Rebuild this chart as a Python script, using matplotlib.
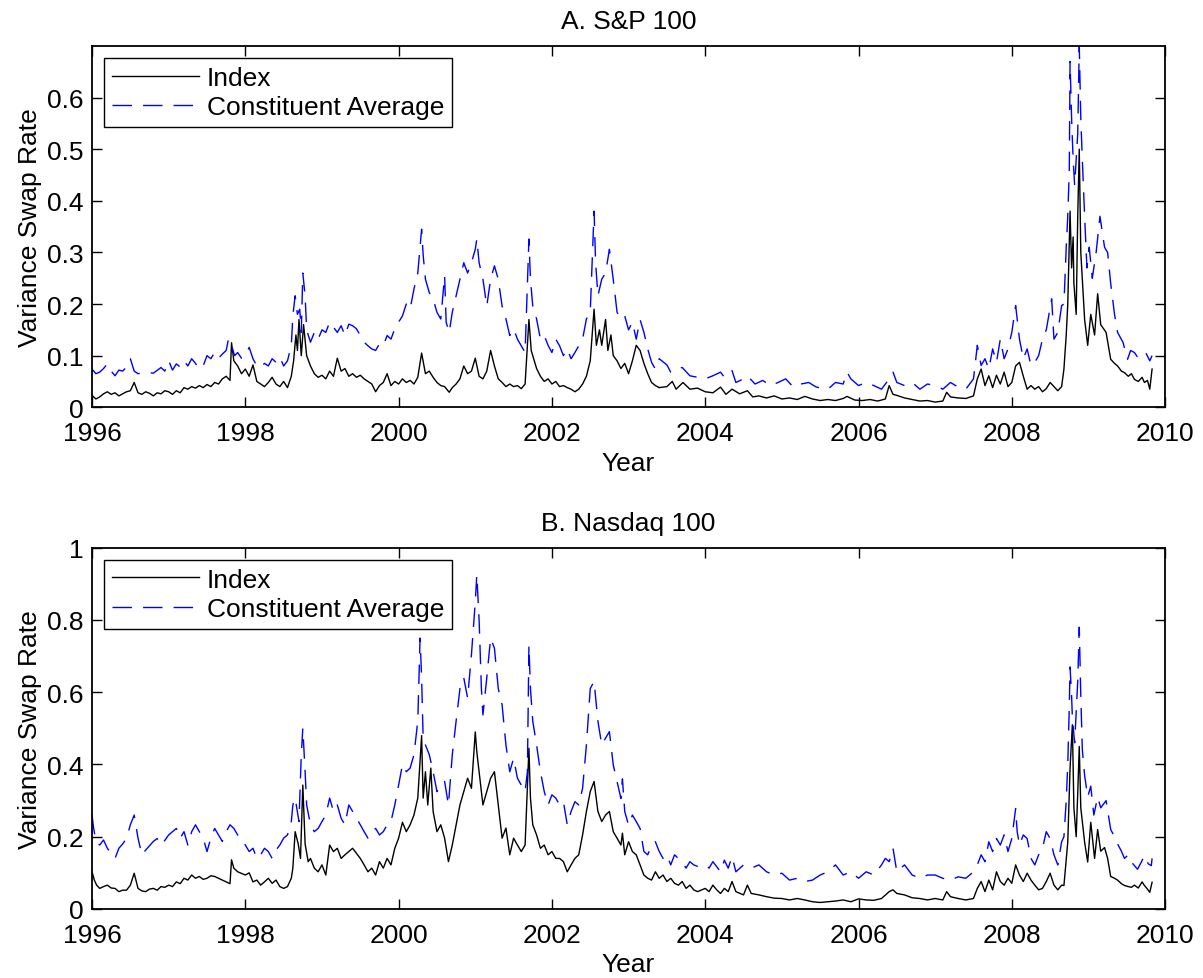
import numpy as np
import matplotlib
matplotlib.use("Agg")
import matplotlib.pyplot as plt

plt.rcParams['font.family'] = ['Liberation Sans', 'DejaVu Sans']

# (year, variance swap rate)
sp_index = [
    (1996.00, 0.023), (1996.05, 0.016), (1996.10, 0.020), (1996.15, 0.026), (1996.20, 0.030),
    (1996.25, 0.025), (1996.30, 0.028), (1996.35, 0.022), (1996.40, 0.026), (1996.45, 0.030),
    (1996.50, 0.032), (1996.55, 0.048), (1996.60, 0.028), (1996.65, 0.025), (1996.70, 0.030),
    (1996.75, 0.027), (1996.80, 0.022), (1996.85, 0.028), (1996.90, 0.026), (1996.95, 0.032),
    (1997.00, 0.030), (1997.05, 0.025), (1997.10, 0.032), (1997.15, 0.028), (1997.20, 0.038),
    (1997.25, 0.035), (1997.30, 0.040), (1997.35, 0.037), (1997.40, 0.042), (1997.45, 0.038),
    (1997.50, 0.044), (1997.55, 0.040), (1997.60, 0.048), (1997.65, 0.045), (1997.70, 0.055),
    (1997.75, 0.060), (1997.80, 0.052), (1997.82, 0.125), (1997.85, 0.090), (1997.90, 0.080),
    (1997.95, 0.065), (1998.00, 0.074), (1998.05, 0.060), (1998.10, 0.082), (1998.15, 0.050),
    (1998.20, 0.045), (1998.25, 0.040), (1998.30, 0.048), (1998.35, 0.058), (1998.40, 0.045),
    (1998.45, 0.040), (1998.50, 0.050), (1998.55, 0.038), (1998.60, 0.060), (1998.63, 0.090),
    (1998.66, 0.140), (1998.68, 0.110), (1998.70, 0.170), (1998.73, 0.100), (1998.76, 0.160),
    (1998.80, 0.100), (1998.85, 0.080), (1998.90, 0.065), (1998.95, 0.058), (1999.00, 0.062),
    (1999.05, 0.055), (1999.10, 0.070), (1999.15, 0.060), (1999.20, 0.095), (1999.25, 0.070),
    (1999.30, 0.075), (1999.35, 0.060), (1999.40, 0.065), (1999.45, 0.058), (1999.50, 0.062),
    (1999.55, 0.055), (1999.60, 0.050), (1999.65, 0.045), (1999.70, 0.030), (1999.75, 0.042),
    (1999.80, 0.048), (1999.85, 0.065), (1999.90, 0.042), (1999.95, 0.050), (2000.00, 0.045),
    (2000.05, 0.055), (2000.10, 0.048), (2000.15, 0.052), (2000.20, 0.045), (2000.25, 0.058),
    (2000.30, 0.105), (2000.35, 0.065), (2000.40, 0.070), (2000.45, 0.058), (2000.50, 0.048),
    (2000.55, 0.042), (2000.60, 0.040), (2000.66, 0.029), (2000.70, 0.038), (2000.75, 0.045),
    (2000.80, 0.055), (2000.85, 0.080), (2000.90, 0.065), (2000.95, 0.070), (2001.00, 0.095),
    (2001.05, 0.060), (2001.10, 0.055), (2001.15, 0.070), (2001.20, 0.110), (2001.25, 0.080),
    (2001.30, 0.055), (2001.35, 0.048), (2001.40, 0.040), (2001.45, 0.045), (2001.50, 0.040),
    (2001.55, 0.042), (2001.60, 0.036), (2001.65, 0.045), (2001.70, 0.170), (2001.73, 0.110),
    (2001.77, 0.090), (2001.80, 0.075), (2001.85, 0.060), (2001.90, 0.050), (2001.95, 0.055),
    (2002.00, 0.045), (2002.05, 0.050), (2002.10, 0.040), (2002.15, 0.042), (2002.20, 0.038),
    (2002.25, 0.035), (2002.30, 0.030), (2002.35, 0.035), (2002.40, 0.045), (2002.45, 0.060),
    (2002.50, 0.090), (2002.55, 0.190), (2002.58, 0.120), (2002.62, 0.150), (2002.65, 0.120),
    (2002.70, 0.170), (2002.73, 0.110), (2002.77, 0.140), (2002.80, 0.100), (2002.85, 0.090),
    (2002.90, 0.075), (2002.95, 0.085), (2003.00, 0.065), (2003.05, 0.090), (2003.10, 0.120),
    (2003.15, 0.110), (2003.20, 0.085), (2003.25, 0.065), (2003.30, 0.048), (2003.35, 0.042),
    (2003.40, 0.038), (2003.50, 0.040), (2003.57, 0.050), (2003.62, 0.035), (2003.71, 0.048),
    (2003.80, 0.035), (2003.90, 0.037), (2004.00, 0.030), (2004.10, 0.028), (2004.20, 0.039),
    (2004.27, 0.025), (2004.35, 0.035), (2004.45, 0.026), (2004.55, 0.032), (2004.62, 0.020),
    (2004.70, 0.022), (2004.80, 0.018), (2004.90, 0.022), (2005.00, 0.016), (2005.10, 0.018),
    (2005.20, 0.015), (2005.30, 0.021), (2005.40, 0.016), (2005.50, 0.013), (2005.60, 0.015),
    (2005.70, 0.013), (2005.80, 0.017), (2005.85, 0.021), (2005.95, 0.014), (2006.05, 0.013),
    (2006.15, 0.015), (2006.25, 0.012), (2006.35, 0.016), (2006.40, 0.042), (2006.45, 0.025),
    (2006.50, 0.023), (2006.60, 0.018), (2006.70, 0.015), (2006.80, 0.012), (2006.90, 0.013),
    (2007.00, 0.010), (2007.10, 0.012), (2007.15, 0.029), (2007.20, 0.020), (2007.30, 0.018),
    (2007.40, 0.017), (2007.50, 0.022), (2007.55, 0.055), (2007.60, 0.074), (2007.65, 0.042),
    (2007.70, 0.061), (2007.75, 0.038), (2007.80, 0.062), (2007.85, 0.045), (2007.90, 0.068),
    (2007.95, 0.040), (2008.00, 0.048), (2008.05, 0.080), (2008.10, 0.087), (2008.15, 0.060),
    (2008.20, 0.035), (2008.25, 0.042), (2008.30, 0.035), (2008.35, 0.040), (2008.40, 0.030),
    (2008.45, 0.036), (2008.50, 0.048), (2008.55, 0.040), (2008.60, 0.032), (2008.65, 0.040),
    (2008.68, 0.074), (2008.71, 0.140), (2008.73, 0.200), (2008.76, 0.380), (2008.78, 0.270),
    (2008.80, 0.330), (2008.81, 0.240), (2008.84, 0.180), (2008.86, 0.370), (2008.88, 0.500),
    (2008.90, 0.300), (2008.95, 0.170), (2008.99, 0.120), (2009.03, 0.180), (2009.08, 0.140),
    (2009.12, 0.220), (2009.16, 0.160), (2009.23, 0.145), (2009.29, 0.093), (2009.34, 0.085),
    (2009.38, 0.080), (2009.43, 0.070), (2009.47, 0.067), (2009.52, 0.060), (2009.56, 0.065),
    (2009.60, 0.054), (2009.65, 0.050), (2009.70, 0.058), (2009.73, 0.048), (2009.77, 0.052),
    (2009.80, 0.035), (2009.83, 0.074),
]

sp_const = [
    (1996.00, 0.074), (1996.05, 0.065), (1996.10, 0.068), (1996.15, 0.075), (1996.20, 0.084),
    (1996.25, 0.070), (1996.30, 0.061), (1996.35, 0.072), (1996.40, 0.070), (1996.45, 0.078),
    (1996.50, 0.094), (1996.55, 0.070), (1996.60, 0.065), (1996.70, 0.068), (1996.80, 0.066),
    (1996.90, 0.077), (1996.95, 0.070), (1997.00, 0.090), (1997.05, 0.072), (1997.10, 0.084),
    (1997.15, 0.078), (1997.20, 0.090), (1997.25, 0.080), (1997.30, 0.094), (1997.35, 0.085),
    (1997.40, 0.074), (1997.45, 0.080), (1997.50, 0.100), (1997.55, 0.094), (1997.60, 0.106),
    (1997.65, 0.095), (1997.70, 0.103), (1997.75, 0.110), (1997.78, 0.132), (1997.82, 0.120),
    (1997.86, 0.100), (1997.90, 0.106), (1997.95, 0.095), (1998.00, 0.100), (1998.05, 0.116),
    (1998.10, 0.094), (1998.15, 0.080), (1998.20, 0.077), (1998.25, 0.085), (1998.30, 0.080),
    (1998.35, 0.094), (1998.40, 0.087), (1998.45, 0.097), (1998.50, 0.080), (1998.55, 0.090),
    (1998.60, 0.120), (1998.62, 0.177), (1998.65, 0.216), (1998.68, 0.180), (1998.71, 0.190),
    (1998.73, 0.145), (1998.75, 0.260), (1998.78, 0.216), (1998.80, 0.150), (1998.85, 0.126),
    (1998.90, 0.145), (1998.95, 0.132), (1999.00, 0.150), (1999.05, 0.145), (1999.10, 0.165),
    (1999.15, 0.155), (1999.20, 0.145), (1999.25, 0.158), (1999.30, 0.139), (1999.35, 0.161),
    (1999.40, 0.158), (1999.45, 0.152), (1999.50, 0.139), (1999.55, 0.126), (1999.60, 0.119),
    (1999.65, 0.113), (1999.70, 0.110), (1999.75, 0.123), (1999.80, 0.119), (1999.85, 0.139),
    (1999.90, 0.132), (1999.95, 0.152), (2000.00, 0.165), (2000.05, 0.177), (2000.10, 0.200),
    (2000.15, 0.190), (2000.20, 0.229), (2000.25, 0.260), (2000.30, 0.345), (2000.32, 0.295),
    (2000.35, 0.248), (2000.40, 0.222), (2000.45, 0.210), (2000.50, 0.184), (2000.55, 0.171),
    (2000.60, 0.255), (2000.62, 0.165), (2000.66, 0.145), (2000.70, 0.184), (2000.75, 0.216),
    (2000.80, 0.248), (2000.85, 0.280), (2000.90, 0.260), (2000.95, 0.280), (2001.00, 0.306),
    (2001.02, 0.326), (2001.05, 0.280), (2001.10, 0.248), (2001.15, 0.196), (2001.20, 0.248),
    (2001.25, 0.274), (2001.30, 0.248), (2001.35, 0.196), (2001.40, 0.171), (2001.45, 0.139),
    (2001.50, 0.152), (2001.55, 0.132), (2001.60, 0.119), (2001.65, 0.106), (2001.70, 0.326),
    (2001.72, 0.248), (2001.75, 0.196), (2001.80, 0.171), (2001.85, 0.132), (2001.90, 0.139),
    (2001.95, 0.120), (2002.00, 0.106), (2002.05, 0.132), (2002.10, 0.119), (2002.15, 0.100),
    (2002.20, 0.113), (2002.25, 0.094), (2002.30, 0.106), (2002.35, 0.119), (2002.40, 0.132),
    (2002.45, 0.171), (2002.50, 0.184), (2002.55, 0.380), (2002.57, 0.280), (2002.60, 0.216),
    (2002.65, 0.248), (2002.70, 0.260), (2002.75, 0.306), (2002.80, 0.248), (2002.85, 0.184),
    (2002.90, 0.171), (2002.95, 0.177), (2003.00, 0.150), (2003.05, 0.165), (2003.10, 0.132),
    (2003.15, 0.170), (2003.20, 0.145), (2003.25, 0.113), (2003.30, 0.087), (2003.35, 0.074),
    (2003.40, 0.094), (2003.50, 0.082), (2003.55, 0.068), (2003.60, 0.074), (2003.70, 0.077),
    (2003.80, 0.061), (2003.90, 0.058), (2004.00, 0.055), (2004.10, 0.061), (2004.20, 0.068),
    (2004.25, 0.058), (2004.35, 0.071), (2004.40, 0.048), (2004.50, 0.055), (2004.55, 0.061),
    (2004.65, 0.045), (2004.75, 0.052), (2004.85, 0.042), (2004.95, 0.048), (2005.05, 0.055),
    (2005.15, 0.039), (2005.25, 0.045), (2005.35, 0.048), (2005.45, 0.039), (2005.60, 0.035),
    (2005.70, 0.048), (2005.80, 0.045), (2005.85, 0.068), (2005.90, 0.055), (2006.00, 0.042),
    (2006.10, 0.048), (2006.20, 0.042), (2006.30, 0.035), (2006.40, 0.055), (2006.45, 0.068),
    (2006.50, 0.048), (2006.60, 0.042), (2006.70, 0.048), (2006.80, 0.035), (2006.90, 0.045),
    (2007.00, 0.042), (2007.10, 0.035), (2007.20, 0.048), (2007.30, 0.039), (2007.40, 0.035),
    (2007.50, 0.055), (2007.55, 0.120), (2007.60, 0.081), (2007.65, 0.094), (2007.70, 0.074),
    (2007.75, 0.113), (2007.80, 0.087), (2007.85, 0.132), (2007.90, 0.094), (2007.95, 0.113),
    (2008.00, 0.145), (2008.05, 0.197), (2008.10, 0.132), (2008.15, 0.094), (2008.20, 0.113),
    (2008.25, 0.081), (2008.30, 0.087), (2008.35, 0.100), (2008.40, 0.132), (2008.45, 0.150),
    (2008.52, 0.210), (2008.55, 0.132), (2008.60, 0.145), (2008.65, 0.197), (2008.68, 0.200),
    (2008.71, 0.310), (2008.73, 0.370), (2008.75, 0.460), (2008.76, 0.670), (2008.78, 0.560),
    (2008.80, 0.480), (2008.82, 0.430), (2008.86, 0.530), (2008.88, 0.700), (2008.90, 0.560),
    (2008.92, 0.480), (2008.95, 0.370), (2008.98, 0.270), (2009.01, 0.310), (2009.05, 0.250),
    (2009.10, 0.300), (2009.15, 0.370), (2009.21, 0.310), (2009.25, 0.300), (2009.29, 0.240),
    (2009.34, 0.180), (2009.38, 0.145), (2009.45, 0.126), (2009.51, 0.093), (2009.55, 0.110),
    (2009.60, 0.106), (2009.65, 0.095), (2009.69, 0.100), (2009.75, 0.105), (2009.80, 0.090),
    (2009.83, 0.100),
]

ndx_index = [
    (1996.00, 0.103), (1996.03, 0.080), (1996.06, 0.066), (1996.10, 0.057), (1996.15, 0.062),
    (1996.20, 0.066), (1996.25, 0.058), (1996.30, 0.057), (1996.35, 0.048), (1996.40, 0.052),
    (1996.45, 0.052), (1996.50, 0.066), (1996.55, 0.099), (1996.60, 0.057), (1996.65, 0.050),
    (1996.70, 0.048), (1996.75, 0.055), (1996.80, 0.057), (1996.85, 0.052), (1996.90, 0.062),
    (1996.95, 0.060), (1997.00, 0.066), (1997.05, 0.062), (1997.10, 0.075), (1997.15, 0.070),
    (1997.20, 0.085), (1997.25, 0.080), (1997.30, 0.094), (1997.35, 0.085), (1997.40, 0.090),
    (1997.45, 0.082), (1997.50, 0.085), (1997.55, 0.092), (1997.60, 0.090), (1997.65, 0.085),
    (1997.70, 0.080), (1997.75, 0.075), (1997.80, 0.070), (1997.82, 0.136), (1997.85, 0.113),
    (1997.90, 0.103), (1998.00, 0.094), (1998.05, 0.100), (1998.10, 0.075), (1998.15, 0.080),
    (1998.20, 0.066), (1998.25, 0.075), (1998.30, 0.085), (1998.35, 0.071), (1998.40, 0.080),
    (1998.45, 0.062), (1998.50, 0.057), (1998.55, 0.062), (1998.60, 0.085), (1998.62, 0.113),
    (1998.65, 0.214), (1998.69, 0.180), (1998.72, 0.140), (1998.75, 0.343), (1998.78, 0.180),
    (1998.82, 0.131), (1998.85, 0.140), (1998.90, 0.113), (1998.95, 0.103), (1999.00, 0.122),
    (1999.05, 0.094), (1999.10, 0.177), (1999.15, 0.159), (1999.20, 0.168), (1999.25, 0.140),
    (1999.30, 0.150), (1999.35, 0.159), (1999.40, 0.168), (1999.45, 0.154), (1999.50, 0.140),
    (1999.55, 0.122), (1999.60, 0.103), (1999.65, 0.113), (1999.70, 0.094), (1999.75, 0.131),
    (1999.80, 0.113), (1999.85, 0.140), (1999.90, 0.122), (1999.95, 0.168), (2000.00, 0.196),
    (2000.05, 0.240), (2000.10, 0.214), (2000.15, 0.233), (2000.20, 0.260), (2000.25, 0.307),
    (2000.30, 0.480), (2000.32, 0.307), (2000.35, 0.380), (2000.38, 0.288), (2000.42, 0.390),
    (2000.45, 0.270), (2000.50, 0.214), (2000.55, 0.233), (2000.60, 0.196), (2000.65, 0.131),
    (2000.70, 0.177), (2000.75, 0.233), (2000.80, 0.288), (2000.85, 0.325), (2000.90, 0.362),
    (2000.95, 0.334), (2001.00, 0.490), (2001.02, 0.435), (2001.05, 0.380), (2001.10, 0.288),
    (2001.15, 0.325), (2001.20, 0.362), (2001.25, 0.380), (2001.30, 0.288), (2001.35, 0.196),
    (2001.40, 0.224), (2001.45, 0.150), (2001.50, 0.196), (2001.55, 0.177), (2001.60, 0.159),
    (2001.65, 0.177), (2001.70, 0.445), (2001.72, 0.307), (2001.75, 0.233), (2001.80, 0.205),
    (2001.85, 0.168), (2001.90, 0.177), (2001.95, 0.150), (2002.00, 0.159), (2002.05, 0.140),
    (2002.10, 0.140), (2002.15, 0.131), (2002.20, 0.103), (2002.25, 0.122), (2002.30, 0.140),
    (2002.35, 0.150), (2002.40, 0.205), (2002.45, 0.270), (2002.50, 0.325), (2002.55, 0.353),
    (2002.60, 0.270), (2002.65, 0.242), (2002.70, 0.260), (2002.75, 0.270), (2002.80, 0.214),
    (2002.85, 0.196), (2002.90, 0.177), (2002.92, 0.210), (2002.95, 0.150), (2003.00, 0.186),
    (2003.05, 0.159), (2003.10, 0.150), (2003.15, 0.122), (2003.20, 0.094), (2003.25, 0.085),
    (2003.30, 0.080), (2003.35, 0.103), (2003.40, 0.085), (2003.45, 0.094), (2003.50, 0.076),
    (2003.55, 0.085), (2003.60, 0.071), (2003.65, 0.066), (2003.70, 0.076), (2003.75, 0.057),
    (2003.80, 0.066), (2003.85, 0.053), (2003.90, 0.048), (2004.00, 0.057), (2004.05, 0.048),
    (2004.10, 0.066), (2004.15, 0.053), (2004.20, 0.043), (2004.25, 0.057), (2004.30, 0.048),
    (2004.35, 0.076), (2004.40, 0.048), (2004.50, 0.039), (2004.55, 0.066), (2004.60, 0.043),
    (2004.70, 0.039), (2004.80, 0.034), (2004.90, 0.030), (2005.00, 0.029), (2005.10, 0.025),
    (2005.20, 0.029), (2005.30, 0.025), (2005.40, 0.020), (2005.50, 0.018), (2005.60, 0.020),
    (2005.70, 0.022), (2005.80, 0.025), (2005.90, 0.020), (2006.00, 0.028), (2006.10, 0.025),
    (2006.20, 0.024), (2006.30, 0.029), (2006.40, 0.048), (2006.45, 0.053), (2006.50, 0.043),
    (2006.60, 0.039), (2006.70, 0.031), (2006.80, 0.029), (2006.90, 0.025), (2007.00, 0.029),
    (2007.10, 0.025), (2007.15, 0.048), (2007.20, 0.034), (2007.30, 0.029), (2007.40, 0.025),
    (2007.50, 0.029), (2007.55, 0.057), (2007.60, 0.076), (2007.65, 0.048), (2007.70, 0.080),
    (2007.75, 0.053), (2007.80, 0.103), (2007.85, 0.076), (2007.90, 0.066), (2007.95, 0.085),
    (2008.00, 0.071), (2008.05, 0.122), (2008.10, 0.094), (2008.15, 0.076), (2008.20, 0.099),
    (2008.25, 0.080), (2008.30, 0.066), (2008.35, 0.053), (2008.40, 0.057), (2008.45, 0.076),
    (2008.50, 0.099), (2008.55, 0.066), (2008.60, 0.053), (2008.65, 0.066), (2008.68, 0.065),
    (2008.73, 0.185), (2008.76, 0.390), (2008.78, 0.470), (2008.79, 0.510), (2008.81, 0.280),
    (2008.84, 0.200), (2008.86, 0.320), (2008.88, 0.450), (2008.90, 0.280), (2008.95, 0.185),
    (2008.99, 0.130), (2009.03, 0.240), (2009.08, 0.140), (2009.12, 0.220), (2009.16, 0.160),
    (2009.21, 0.170), (2009.25, 0.140), (2009.29, 0.090), (2009.34, 0.085), (2009.38, 0.080),
    (2009.43, 0.070), (2009.47, 0.065), (2009.52, 0.062), (2009.56, 0.060), (2009.60, 0.066),
    (2009.65, 0.058), (2009.70, 0.075), (2009.73, 0.065), (2009.77, 0.055), (2009.80, 0.046),
    (2009.83, 0.074),
]

ndx_const = [
    (1996.00, 0.260), (1996.02, 0.225), (1996.05, 0.187), (1996.10, 0.177), (1996.15, 0.191),
    (1996.20, 0.168), (1996.25, 0.154), (1996.30, 0.140), (1996.35, 0.168), (1996.40, 0.180),
    (1996.45, 0.196), (1996.50, 0.233), (1996.55, 0.260), (1996.60, 0.196), (1996.65, 0.150),
    (1996.70, 0.163), (1996.75, 0.175), (1996.80, 0.187), (1996.85, 0.195), (1996.90, 0.177),
    (1996.95, 0.190), (1997.00, 0.205), (1997.05, 0.214), (1997.10, 0.223), (1997.15, 0.196),
    (1997.20, 0.214), (1997.25, 0.177), (1997.30, 0.214), (1997.35, 0.233), (1997.40, 0.214),
    (1997.45, 0.196), (1997.50, 0.159), (1997.55, 0.196), (1997.60, 0.223), (1997.65, 0.205),
    (1997.70, 0.187), (1997.75, 0.214), (1997.80, 0.233), (1997.85, 0.223), (1997.90, 0.205),
    (1997.95, 0.196), (1998.00, 0.177), (1998.05, 0.159), (1998.10, 0.168), (1998.15, 0.140),
    (1998.20, 0.150), (1998.25, 0.168), (1998.30, 0.159), (1998.35, 0.140), (1998.40, 0.163),
    (1998.45, 0.177), (1998.50, 0.196), (1998.55, 0.205), (1998.60, 0.242), (1998.62, 0.288),
    (1998.65, 0.307), (1998.70, 0.242), (1998.73, 0.427), (1998.75, 0.500), (1998.78, 0.380),
    (1998.80, 0.288), (1998.85, 0.233), (1998.90, 0.214), (1998.95, 0.223), (1999.00, 0.242),
    (1999.05, 0.260), (1999.10, 0.307), (1999.15, 0.270), (1999.20, 0.288), (1999.25, 0.251),
    (1999.30, 0.233), (1999.35, 0.288), (1999.40, 0.270), (1999.45, 0.251), (1999.50, 0.233),
    (1999.55, 0.214), (1999.60, 0.196), (1999.65, 0.214), (1999.70, 0.223), (1999.75, 0.205),
    (1999.80, 0.214), (1999.85, 0.233), (1999.90, 0.242), (1999.95, 0.288), (2000.00, 0.343),
    (2000.05, 0.400), (2000.10, 0.380), (2000.15, 0.390), (2000.20, 0.427), (2000.25, 0.520),
    (2000.28, 0.750), (2000.30, 0.640), (2000.32, 0.473), (2000.35, 0.454), (2000.40, 0.427),
    (2000.45, 0.380), (2000.50, 0.325), (2000.55, 0.343), (2000.60, 0.353), (2000.65, 0.288),
    (2000.70, 0.427), (2000.75, 0.520), (2000.80, 0.610), (2000.85, 0.640), (2000.90, 0.584),
    (2000.95, 0.704), (2001.00, 0.850), (2001.02, 0.925), (2001.05, 0.800), (2001.08, 0.610),
    (2001.10, 0.537), (2001.15, 0.640), (2001.20, 0.750), (2001.25, 0.722), (2001.30, 0.610),
    (2001.35, 0.565), (2001.40, 0.454), (2001.45, 0.380), (2001.50, 0.417), (2001.55, 0.362),
    (2001.60, 0.343), (2001.65, 0.325), (2001.68, 0.380), (2001.70, 0.730), (2001.72, 0.610),
    (2001.75, 0.520), (2001.80, 0.454), (2001.85, 0.380), (2001.90, 0.325), (2001.95, 0.288),
    (2002.00, 0.316), (2002.05, 0.307), (2002.10, 0.288), (2002.15, 0.297), (2002.20, 0.233),
    (2002.25, 0.270), (2002.30, 0.297), (2002.35, 0.288), (2002.40, 0.334), (2002.45, 0.454),
    (2002.50, 0.610), (2002.55, 0.630), (2002.60, 0.520), (2002.65, 0.454), (2002.70, 0.473),
    (2002.75, 0.491), (2002.80, 0.399), (2002.85, 0.353), (2002.90, 0.306), (2002.92, 0.360),
    (2002.95, 0.270), (2003.00, 0.232), (2003.05, 0.260), (2003.10, 0.242), (2003.15, 0.223),
    (2003.20, 0.159), (2003.25, 0.150), (2003.30, 0.177), (2003.35, 0.186), (2003.40, 0.159),
    (2003.45, 0.140), (2003.50, 0.150), (2003.55, 0.122), (2003.60, 0.150), (2003.65, 0.140),
    (2003.70, 0.131), (2003.75, 0.113), (2003.80, 0.131), (2003.85, 0.122), (2003.90, 0.118),
    (2004.00, 0.122), (2004.05, 0.113), (2004.10, 0.131), (2004.20, 0.103), (2004.25, 0.135),
    (2004.30, 0.113), (2004.35, 0.145), (2004.40, 0.103), (2004.50, 0.122), (2004.60, 0.113),
    (2004.70, 0.122), (2004.80, 0.103), (2004.90, 0.094), (2005.00, 0.099), (2005.10, 0.080),
    (2005.20, 0.085), (2005.30, 0.076), (2005.40, 0.080), (2005.50, 0.094), (2005.60, 0.103),
    (2005.70, 0.122), (2005.80, 0.094), (2005.90, 0.103), (2006.00, 0.085), (2006.10, 0.103),
    (2006.20, 0.094), (2006.30, 0.122), (2006.35, 0.140), (2006.40, 0.131), (2006.45, 0.168),
    (2006.50, 0.103), (2006.60, 0.122), (2006.70, 0.094), (2006.80, 0.085), (2006.90, 0.094),
    (2007.00, 0.094), (2007.10, 0.085), (2007.20, 0.080), (2007.30, 0.089), (2007.40, 0.085),
    (2007.50, 0.103), (2007.55, 0.122), (2007.60, 0.150), (2007.65, 0.131), (2007.70, 0.186),
    (2007.75, 0.159), (2007.80, 0.195), (2007.85, 0.177), (2007.90, 0.205), (2007.95, 0.159),
    (2008.00, 0.195), (2008.05, 0.278), (2008.07, 0.214), (2008.10, 0.177), (2008.15, 0.205),
    (2008.20, 0.195), (2008.25, 0.140), (2008.30, 0.122), (2008.35, 0.150), (2008.40, 0.168),
    (2008.45, 0.214), (2008.50, 0.195), (2008.55, 0.150), (2008.60, 0.122), (2008.65, 0.186),
    (2008.68, 0.200), (2008.71, 0.300), (2008.73, 0.400), (2008.75, 0.560), (2008.76, 0.670),
    (2008.78, 0.590), (2008.79, 0.530), (2008.82, 0.460), (2008.86, 0.630), (2008.88, 0.780),
    (2008.90, 0.590), (2008.92, 0.440), (2008.95, 0.370), (2008.99, 0.310), (2009.03, 0.340),
    (2009.07, 0.260), (2009.12, 0.310), (2009.16, 0.280), (2009.23, 0.300), (2009.29, 0.220),
    (2009.34, 0.200), (2009.38, 0.180), (2009.43, 0.160), (2009.47, 0.140), (2009.52, 0.150),
    (2009.56, 0.130), (2009.60, 0.120), (2009.64, 0.110), (2009.69, 0.130), (2009.73, 0.148),
    (2009.78, 0.125), (2009.82, 0.120), (2009.83, 0.140),
]

panels = [
    ("A. S&P 100", sp_index, sp_const, 0.7, [0, 0.1, 0.2, 0.3, 0.4, 0.5, 0.6]),
    ("B. Nasdaq 100", ndx_index, ndx_const, 1.0, [0, 0.2, 0.4, 0.6, 0.8, 1]),
]
year_ticks = [1996, 1998, 2000, 2002, 2004, 2006, 2008, 2010]

fig = plt.figure(figsize=(12.03, 9.79), dpi=100)
rects = [[0.0765, 0.583, 0.892, 0.369], [0.0765, 0.0705, 0.892, 0.369]]

for rect, (title, idx, const, ytop, yticks) in zip(rects, panels):
    ax = fig.add_axes(rect)
    t1, v1 = np.array(idx).T
    t2, v2 = np.array(const).T
    ax.plot(t1, v1, color='black', lw=1.0, label='Index')
    ax.plot(t2, v2, color='blue', lw=1.0, dashes=(14, 8), label='Constituent Average')
    ax.set_xlim(1996, 2010)
    ax.set_ylim(0, ytop)
    ax.set_xticks(year_ticks)
    ax.set_yticks(yticks)
    ax.set_yticklabels([('%g' % v) for v in yticks])
    ax.tick_params(direction='in', top=True, right=True, length=7.5, width=1, labelsize=19)
    ax.tick_params(axis='x', pad=10)
    ax.tick_params(axis='y', pad=6)
    for s in ax.spines.values():
        s.set_linewidth(1.3)
    ax.set_title(title, fontsize=19, pad=13)
    ax.set_xlabel('Year', fontsize=19, labelpad=4)
    ax.set_ylabel('Variance Swap Rate', fontsize=19, labelpad=4)
    leg = ax.legend(loc='upper left', fontsize=19, fancybox=False, edgecolor='black',
                    framealpha=1, handlelength=3.3, handletextpad=0.3, borderpad=0.3,
                    labelspacing=0.2, borderaxespad=0.45)
    leg.get_frame().set_linewidth(1.0)

fig.savefig('out.png', dpi=100)
